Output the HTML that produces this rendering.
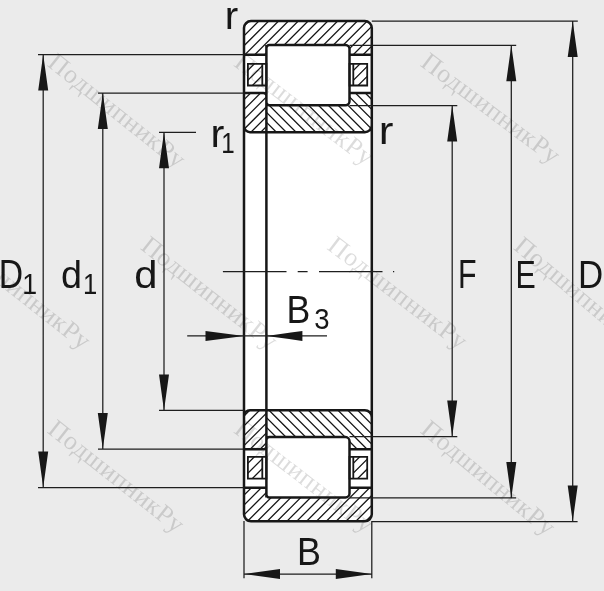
<!DOCTYPE html>
<html><head><meta charset="utf-8"><style>html,body{margin:0;padding:0;background:#ebebeb;}svg{display:block;}</style></head>
<body><svg width="604" height="591" viewBox="0 0 604 591">
<rect width="604" height="591" fill="#ebebeb"/>
<rect x="244.0" y="21.1" width="127.80000000000001" height="500.19999999999993" rx="7.0" fill="#fff"/>
<g font-family="Liberation Serif, serif" font-size="26" fill="#000000" opacity="0.14">
<text transform="translate(46.35 65.20) rotate(38.5)" letter-spacing="0.7">ПодшипникРу</text>
<text transform="translate(232.85 65.20) rotate(37.3)" letter-spacing="0.7">ПодшипникРу</text>
<text transform="translate(419.35 65.20) rotate(36.9)" letter-spacing="0.6">ПодшипникРу</text>
<text transform="translate(-47.40 248.40) rotate(38.2)" letter-spacing="0.5">ПодшипникРу</text>
<text transform="translate(139.60 248.40) rotate(38.2)" letter-spacing="0.5">ПодшипникРу</text>
<text transform="translate(326.10 248.40) rotate(37.5)" letter-spacing="0.8">ПодшипникРу</text>
<text transform="translate(512.60 248.40) rotate(40.0)" letter-spacing="0.5">ПодшипникРу</text>
<text transform="translate(46.35 431.90) rotate(38.2)" letter-spacing="0.5">ПодшипникРу</text>
<text transform="translate(232.85 431.90) rotate(37.6)" letter-spacing="0.7">ПодшипникРу</text>
<text transform="translate(419.35 431.90) rotate(39.5)" letter-spacing="0.5">ПодшипникРу</text>
</g>
<clipPath id="c1"><polygon points="244.00,21.10 371.80,21.10 371.80,54.70 349.50,54.70 349.50,45.00 266.40,45.00 266.40,54.70 244.00,54.70"/></clipPath>
<path clip-path="url(#c1)" d="M210.35 59.70L253.95 16.10M220.20 59.70L263.80 16.10M230.05 59.70L273.65 16.10M239.90 59.70L283.50 16.10M249.75 59.70L293.35 16.10M259.60 59.70L303.20 16.10M269.45 59.70L313.05 16.10M279.30 59.70L322.90 16.10M289.15 59.70L332.75 16.10M299.00 59.70L342.60 16.10M308.85 59.70L352.45 16.10M318.70 59.70L362.30 16.10M328.55 59.70L372.15 16.10M338.40 59.70L382.00 16.10M348.25 59.70L391.85 16.10M358.10 59.70L401.70 16.10" stroke="#171717" stroke-width="1.3" fill="none"/>
<clipPath id="c2"><polygon points="244.00,93.10 266.40,93.10 266.40,132.20 244.00,132.20"/></clipPath>
<path clip-path="url(#c2)" d="M206.50 137.20L255.60 88.10M216.35 137.20L265.45 88.10M226.20 137.20L275.30 88.10M236.05 137.20L285.15 88.10M245.90 137.20L295.00 88.10M255.75 137.20L304.85 88.10" stroke="#171717" stroke-width="1.3" fill="none"/>
<clipPath id="c3"><polygon points="266.40,105.30 349.50,105.30 349.50,93.10 371.80,93.10 371.80,132.20 266.40,132.20"/></clipPath>
<path clip-path="url(#c3)" d="M222.45 88.10L271.55 137.20M232.30 88.10L281.40 137.20M242.15 88.10L291.25 137.20M252.00 88.10L301.10 137.20M261.85 88.10L310.95 137.20M271.70 88.10L320.80 137.20M281.55 88.10L330.65 137.20M291.40 88.10L340.50 137.20M301.25 88.10L350.35 137.20M311.10 88.10L360.20 137.20M320.95 88.10L370.05 137.20M330.80 88.10L379.90 137.20M340.65 88.10L389.75 137.20M350.50 88.10L399.60 137.20M360.35 88.10L409.45 137.20" stroke="#171717" stroke-width="1.3" fill="none"/>
<clipPath id="c4"><polygon points="247.90,63.80 262.30,63.80 262.30,85.50 247.90,85.50"/></clipPath>
<path clip-path="url(#c4)" d="M227.70 90.50L259.40 58.80M237.55 90.50L269.25 58.80M247.40 90.50L279.10 58.80M257.25 90.50L288.95 58.80" stroke="#171717" stroke-width="1.3" fill="none"/>
<clipPath id="c5"><polygon points="353.30,63.80 367.20,63.80 367.20,85.50 353.30,85.50"/></clipPath>
<path clip-path="url(#c5)" d="M333.35 90.50L365.05 58.80M343.20 90.50L374.90 58.80M353.05 90.50L384.75 58.80" stroke="#171717" stroke-width="1.3" fill="none"/>
<clipPath id="c6"><polygon points="244.00,521.30 371.80,521.30 371.80,487.70 349.50,487.70 349.50,497.40 266.40,497.40 266.40,487.70 244.00,487.70"/></clipPath>
<path clip-path="url(#c6)" d="M212.90 526.30L256.50 482.70M222.75 526.30L266.35 482.70M232.60 526.30L276.20 482.70M242.45 526.30L286.05 482.70M252.30 526.30L295.90 482.70M262.15 526.30L305.75 482.70M272.00 526.30L315.60 482.70M281.85 526.30L325.45 482.70M291.70 526.30L335.30 482.70M301.55 526.30L345.15 482.70M311.40 526.30L355.00 482.70M321.25 526.30L364.85 482.70M331.10 526.30L374.70 482.70M340.95 526.30L384.55 482.70M350.80 526.30L394.40 482.70M360.65 526.30L404.25 482.70" stroke="#171717" stroke-width="1.3" fill="none"/>
<clipPath id="c7"><polygon points="244.00,449.30 266.40,449.30 266.40,410.20 244.00,410.20"/></clipPath>
<path clip-path="url(#c7)" d="M205.70 454.30L254.80 405.20M215.55 454.30L264.65 405.20M225.40 454.30L274.50 405.20M235.25 454.30L284.35 405.20M245.10 454.30L294.20 405.20M254.95 454.30L304.05 405.20" stroke="#171717" stroke-width="1.3" fill="none"/>
<clipPath id="c8"><polygon points="266.40,437.10 349.50,437.10 349.50,449.30 371.80,449.30 371.80,410.20 266.40,410.20"/></clipPath>
<path clip-path="url(#c8)" d="M224.55 405.20L273.65 454.30M234.40 405.20L283.50 454.30M244.25 405.20L293.35 454.30M254.10 405.20L303.20 454.30M263.95 405.20L313.05 454.30M273.80 405.20L322.90 454.30M283.65 405.20L332.75 454.30M293.50 405.20L342.60 454.30M303.35 405.20L352.45 454.30M313.20 405.20L362.30 454.30M323.05 405.20L372.15 454.30M332.90 405.20L382.00 454.30M342.75 405.20L391.85 454.30M352.60 405.20L401.70 454.30M362.45 405.20L411.55 454.30" stroke="#171717" stroke-width="1.3" fill="none"/>
<clipPath id="c9"><polygon points="247.90,456.90 262.30,456.90 262.30,478.60 247.90,478.60"/></clipPath>
<path clip-path="url(#c9)" d="M227.60 483.60L259.30 451.90M237.45 483.60L269.15 451.90M247.30 483.60L279.00 451.90M257.15 483.60L288.85 451.90" stroke="#171717" stroke-width="1.3" fill="none"/>
<clipPath id="c10"><polygon points="353.30,456.90 367.20,456.90 367.20,478.60 353.30,478.60"/></clipPath>
<path clip-path="url(#c10)" d="M332.95 483.60L364.65 451.90M342.80 483.60L374.50 451.90M352.65 483.60L384.35 451.90" stroke="#171717" stroke-width="1.3" fill="none"/>
<path d="M244.0 28.1A7.0 7.0 0 0 1 251.0 21.1H364.8A7.0 7.0 0 0 1 371.8 28.1V514.3A7.0 7.0 0 0 1 364.8 521.3H251.0A7.0 7.0 0 0 1 244.0 514.3ZM266.4 45.0V497.4M269.4 45.0H345.5A4.0 4.0 0 0 1 349.5 49.0V101.3A4.0 4.0 0 0 1 345.5 105.3H269.4A3.0 3.0 0 0 1 266.4 102.3V48.0A3.0 3.0 0 0 1 269.4 45.0ZM244.0 54.7H266.4M349.5 54.7H371.8M244.0 93.1H263.4A3.0 3.0 0 0 1 266.4 96.1M349.5 93.1H371.8M244.0 126.19999999999999A6.0 6.0 0 0 0 250.0 132.2H364.8A7.0 7.0 0 0 0 371.8 125.19999999999999M269.4 497.4H345.5A4.0 4.0 0 0 0 349.5 493.4V441.09999999999997A4.0 4.0 0 0 0 345.5 437.09999999999997H269.4A3.0 3.0 0 0 0 266.4 440.09999999999997V494.4A3.0 3.0 0 0 0 269.4 497.4ZM244.0 487.7H266.4M349.5 487.7H371.8M244.0 449.29999999999995H263.4A3.0 3.0 0 0 0 266.4 446.29999999999995M349.5 449.29999999999995H371.8M244.0 416.2A6.0 6.0 0 0 1 250.0 410.2H364.8A7.0 7.0 0 0 1 371.8 417.2" stroke="#171717" stroke-width="2.5" fill="none"/>
<path d="M247.9 63.8H266.4V85.5H247.9ZM262.3 63.8V85.5M349.5 63.8H367.2V85.5H349.5ZM353.3 63.8V85.5M247.9 456.9H266.4V478.59999999999997H247.9ZM262.3 456.9V478.59999999999997M349.5 456.9H367.2V478.59999999999997H349.5ZM353.3 456.9V478.59999999999997" stroke="#171717" stroke-width="1.8" fill="none"/>
<path d="M43.2 54.6V487.6M38 54.6H244.0M38 487.6H244.0M102.8 93.1V449.0M98 93.1H244.0M98 449.0H244.0M164.0 132.3V410.4M159 132.3H196M159 410.4H244.0M452.2 105.6V436.6M349.5 105.6H457.3M349.5 436.6H457.3M511.3 45.3V497.9M349.5 45.3H516.2M349.5 497.9H516.2M572.7 21.1V521.6M371.8 21.1H577.8M371.8 521.6H577.6M244.0 574.0H371.8M244.0 521V578.3M371.8 521V578.3M187.2 335.9H327.0M222.9 271.5H286.5M297.7 271.5H307.6M319.0 271.5H382.5M393.0 271.5H394.2" stroke="#1e1e1e" stroke-width="1.25" fill="none"/>
<path d="M43.2 54.6L38.2 90.6L48.2 90.6ZM43.2 487.6L38.2 451.6L48.2 451.6ZM102.8 93.1L97.8 129.1L107.8 129.1ZM102.8 449.0L97.8 413.0L107.8 413.0ZM164.0 132.3L159.0 168.3L169.0 168.3ZM164.0 410.4L159.0 374.4L169.0 374.4ZM452.2 105.6L447.2 141.6L457.2 141.6ZM452.2 436.6L447.2 400.6L457.2 400.6ZM511.3 45.3L506.3 81.3L516.3 81.3ZM511.3 497.9L506.3 461.9L516.3 461.9ZM572.7 21.1L567.7 57.1L577.7 57.1ZM572.7 521.6L567.7 485.6L577.7 485.6ZM244.0 574.0L280.0 569.0L280.0 579.0ZM371.8 574.0L335.8 569.0L335.8 579.0ZM244.0 335.9L205.5 330.9L205.5 340.9ZM266.4 335.9L302.4 330.9L302.4 340.9Z" fill="#171717"/>
<g font-family="Liberation Sans, sans-serif">
<text transform="translate(224.77 28.80) scale(1.044 1)" font-size="38.70" fill="#171717">r</text>
<text transform="translate(210.49 146.70) scale(1.085 1)" font-size="38.33" fill="#171717">r</text>
<text transform="translate(221.37 152.70) scale(0.806 1)" font-size="30.00" fill="#171717">1</text>
<text transform="translate(378.72 143.70) scale(1.148 1)" font-size="38.33" fill="#171717">r</text>
<text transform="translate(-1.20 288.00) scale(0.843 1)" font-size="40.00" fill="#171717">D</text>
<text transform="translate(22.36 293.80) scale(0.887 1)" font-size="30.14" fill="#171717">1</text>
<text transform="translate(61.09 287.81) scale(0.957 1)" font-size="39.46" fill="#171717">d</text>
<text transform="translate(82.95 293.70) scale(0.845 1)" font-size="30.29" fill="#171717">1</text>
<text transform="translate(134.33 287.61) scale(1.066 1)" font-size="39.19" fill="#171717">d</text>
<text transform="translate(286.55 322.80) scale(0.918 1)" font-size="38.84" fill="#171717">B</text>
<text transform="translate(314.20 329.40) scale(0.915 1)" font-size="30.00" fill="#171717">3</text>
<text transform="translate(457.97 288.40) scale(0.749 1)" font-size="40.58" fill="#171717">F</text>
<text transform="translate(515.57 287.90) scale(0.770 1)" font-size="39.42" fill="#171717">E</text>
<text transform="translate(578.11 288.00) scale(0.882 1)" font-size="39.57" fill="#171717">D</text>
<text transform="translate(296.93 565.20) scale(0.926 1)" font-size="38.70" fill="#171717">B</text>
</g>
</svg></body></html>
